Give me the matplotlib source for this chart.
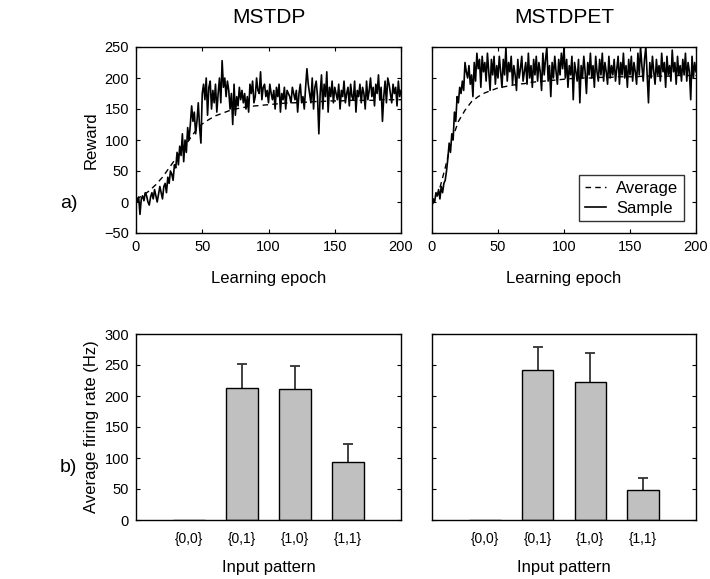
import numpy as np
import matplotlib
matplotlib.use("Agg")
import matplotlib.pyplot as plt

plt.rcParams['font.family'] = ['Liberation Sans', 'DejaVu Sans']

# ---------------- data ----------------
sample_mstdp = [
    5, 0, 8, -20, 5, 10, 2, 15, 10, 0,
    -5, 8, 15, 5, 20, 10, 0, 12, 25, 15,
    5, 25, 30, 15, 40, 30, 50, 45, 35, 60,
    55, 80, 60, 90, 75, 110, 65, 100, 80, 120,
    100, 125, 155, 130, 145, 110, 130, 160, 120, 95,
    175, 190, 165, 200, 140, 185, 195, 150, 180, 160,
    190, 145, 175, 200, 160, 228, 185, 200, 170, 195,
    180, 150, 175, 125, 190, 140, 170, 155, 185, 165,
    180, 160, 175, 150, 170, 145, 190, 175, 195, 160,
    170, 200, 180, 175, 210, 165, 185, 190, 170, 180,
    160, 190, 175, 165, 180, 150, 185, 170, 190, 145,
    175, 165, 185, 150, 180, 175, 170, 160, 185, 175,
    165, 180, 145, 175, 190, 160, 170, 150, 185, 215,
    190, 175, 160, 200, 150, 185, 195, 170, 110, 175,
    205, 150, 190, 170, 210, 145, 185, 170, 195, 160,
    185, 175, 165, 190, 150, 180, 170, 195, 160, 175,
    185, 155, 190, 170, 165, 195, 145, 180, 170, 190,
    160, 185, 175, 150, 195, 165, 180, 200, 170, 185,
    155, 190, 175, 205, 165, 185, 130, 170, 195, 160,
    200, 190, 175, 160, 190, 175, 185, 155, 195, 170,
    180]

sample_mstdpet = [
    -5, 5, 0, 15, 10, 20, 5, 25, 15, 30,
    35, 50, 70, 95, 80, 110, 100, 145, 130, 170,
    160, 185, 175, 195, 180, 225, 210, 200, 220, 190,
    205, 170, 225, 195, 240, 215, 230, 185, 235, 210,
    225, 195, 240, 210, 180, 230, 205, 235, 190, 220,
    200, 235, 210, 185, 230, 205, 250, 195, 225, 210,
    235, 190, 220, 205, 180, 230, 200, 215, 235, 195,
    210, 225, 190, 240, 200, 220, 185, 230, 205, 235,
    195, 225, 210, 180, 240, 205, 230, 250, 195, 220,
    170, 225, 200, 235, 210, 190, 230, 205, 240, 215,
    250, 200, 230, 185, 220, 205, 235, 165, 225, 210,
    195, 230, 160, 220, 200, 235, 210, 175, 225, 205,
    240, 200, 220, 185, 235, 210, 195, 230, 205, 240,
    195, 225, 210, 190, 235, 200, 220, 205, 230, 195,
    215, 235, 190, 225, 205, 240, 200, 220, 185, 230,
    205, 235, 195, 225, 210, 190, 240, 205, 250, 220,
    195, 230, 250, 205, 160, 225, 200, 235, 210, 190,
    230, 205, 220, 195, 240, 210, 225, 185, 235, 205,
    220, 195, 245, 210, 225, 190, 235, 205, 220, 195,
    230, 205, 240, 195, 225, 210, 165, 235, 200, 225,
    210]

avg_epochs = list(range(0, 201, 5))
avg_mstdp = [5, 10, 18, 28, 40, 55, 70, 85, 100, 115,
             126, 133, 139, 143, 147, 150, 152, 154, 155, 156,
             157, 158, 159, 160, 160, 161, 161, 162, 162, 163,
             163, 163, 164, 164, 164, 164, 164, 165, 165, 165, 165]
avg_mstdpet = [-5, 15, 55, 100, 130, 148, 162, 170, 176, 180,
               184, 186, 188, 190, 191, 193, 194, 195, 196, 197,
               198, 199, 199, 200, 200, 201, 201, 201, 202, 202,
               202, 202, 203, 203, 203, 203, 203, 204, 204, 204, 204]

patterns = ['{0,0}', '{0,1}', '{1,0}', '{1,1}']
rate_mstdp = [0, 213, 211, 94]
err_mstdp = [0, 39, 37, 28.6]
rate_mstdpet = [0, 242, 222.6, 48.4]
err_mstdpet = [0, 36.5, 46.4, 19.3]

# ---------------- figure ----------------
W, H = 710, 579
fig = plt.figure(figsize=(W / 100, H / 100), dpi=100)

def ax_at(x0, y0, x1, y1):
    return fig.add_axes([x0 / W, 1 - y1 / H, (x1 - x0) / W, (y1 - y0) / H])

def style(ax):
    ax.tick_params(direction='in', top=True, right=True, length=3,
                   width=0.8, labelsize=10.5, pad=5)
    for s in ax.spines.values():
        s.set_linewidth(1.0)

ax1 = ax_at(136, 47, 401, 233)
ax2 = ax_at(432, 47, 696, 233)
ax3 = ax_at(136, 334, 401, 520)
ax4 = ax_at(432, 334, 696, 520)

epochs = np.arange(len(sample_mstdp))
for ax, s, a, title in [(ax1, sample_mstdp, avg_mstdp, 'MSTDP'),
                        (ax2, sample_mstdpet, avg_mstdpet, 'MSTDPET')]:
    ax.plot(avg_epochs, a, color='black', lw=1.0, ls=(0, (4, 3)), label='Average')
    ax.plot(epochs, s, color='black', lw=1.2, label='Sample')
    ax.set_xlim(0, 200)
    ax.set_ylim(-50, 250)
    ax.set_xticks([0, 50, 100, 150, 200])
    ax.set_yticks([-50, 0, 50, 100, 150, 200, 250])
    style(ax)
    ax.set_xlabel('Learning epoch', fontsize=12, labelpad=12)
    ax.set_title(title, fontsize=15, pad=17)

ax1.set_ylabel('Reward', fontsize=12, labelpad=4)
ax2.set_yticklabels([])
leg = ax2.legend(loc='lower right', fontsize=12, frameon=True, fancybox=False,
                 edgecolor='black', handlelength=1.3, borderaxespad=0.7,
                 labelspacing=0.3, handletextpad=0.6, borderpad=0.35)
leg.get_frame().set_linewidth(1.0)

xpos = np.arange(len(patterns))
for ax, r, e in [(ax3, rate_mstdp, err_mstdp), (ax4, rate_mstdpet, err_mstdpet)]:
    ax.bar(xpos, r, width=0.6, color='#c0c0c0', edgecolor='black', linewidth=1.0, zorder=2)
    idx = [i for i in range(len(r)) if e[i] > 0]
    xs = xpos[idx]
    lo = [r[i] for i in idx]
    hi = [r[i] + e[i] for i in idx]
    ax.vlines(xs, lo, hi, colors='#333333', linewidth=1.3, zorder=1)
    ax.plot(xs, hi, ls='none', marker='_', ms=7, mew=1.3, color='#333333', zorder=1)
    ax.set_xlim(-1, 4)
    ax.set_ylim(0, 300)
    ax.set_yticks([0, 50, 100, 150, 200, 250, 300])
    ax.set_xticks(xpos)
    ax.set_xticklabels(patterns)
    style(ax)
    ax.tick_params(axis='x', length=0, labelsize=10, pad=9)
    ax.set_xlabel('Input pattern', fontsize=12, labelpad=10)

ax3.set_ylabel('Average firing rate (Hz)', fontsize=12, labelpad=4)
ax4.set_yticklabels([])

fig.text(60 / W, 1 - 203 / H, 'a)', fontsize=14, va='center', ha='left')
fig.text(60 / W, 1 - 467 / H, 'b)', fontsize=14, va='center', ha='left')

fig.savefig('out.png', dpi=100)
